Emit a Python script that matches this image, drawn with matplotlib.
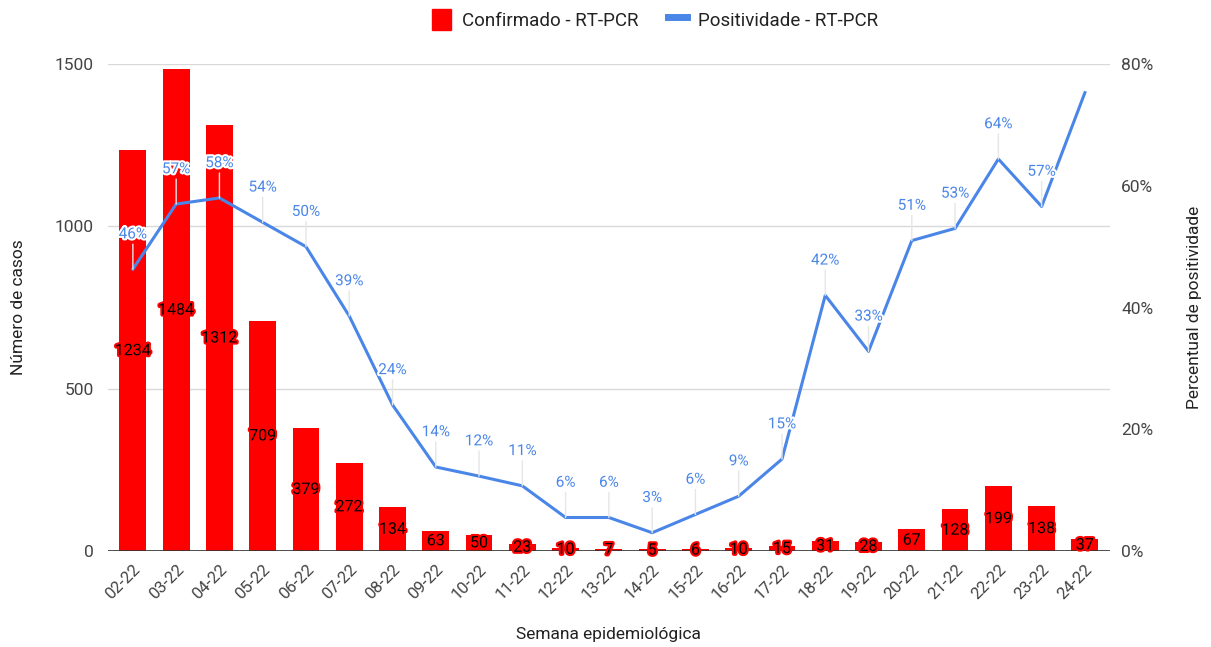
import numpy as np
import matplotlib.pyplot as plt
import matplotlib.patheffects as pe
from matplotlib.lines import Line2D
from matplotlib.patches import Patch

plt.rcParams['font.family'] = ['Roboto', 'DejaVu Sans']

# -------- DATA --------
semanas = ['02-22', '03-22', '04-22', '05-22', '06-22', '07-22', '08-22', '09-22',
           '10-22', '11-22', '12-22', '13-22', '14-22', '15-22', '16-22', '17-22',
           '18-22', '19-22', '20-22', '21-22', '22-22', '23-22', '24-22']
confirmados = [1234, 1484, 1312, 709, 379, 272, 134, 63, 50, 23, 10, 7, 5, 6, 10, 15,
               31, 28, 67, 128, 199, 138, 37]
positividade = [46.3, 57.0, 58.0, 54.0, 50.0, 38.6, 24.0, 13.8, 12.3, 10.7, 5.5, 5.5,
                3.0, 6.0, 9.0, 15.1, 42.0, 32.8, 51.0, 53.0, 64.4, 56.6, 75.3]
mostrar_pct = [True] * 22 + [False]

RED = '#ff0000'
BLUE = '#4a86e8'

# -------- PLOT --------
fig = plt.figure(figsize=(12.11, 6.47), dpi=100)
ax = fig.add_axes([0.089, 0.1484, 0.8276, 0.7526])
ax2 = ax.twinx()

x = np.arange(len(semanas))
ax.bar(x, confirmados, width=0.62, color=RED, zorder=2)
for xi, v in zip(x, confirmados):
    ax.text(xi, v / 2, str(v), ha='center', va='center', fontsize=11.5, color='black',
            zorder=5, path_effects=[pe.withStroke(linewidth=3, foreground=RED)])

ax.set_ylim(0, 1500)
ax.set_xlim(-0.58, len(semanas) - 0.42)
ax.set_yticks([0, 500, 1000, 1500])
ax.grid(axis='y', color='#d9d9d9', linewidth=1, zorder=0)
ax.set_axisbelow(True)
ax.set_xticks(x)
ax.set_xticklabels(semanas, rotation=45, ha='right', rotation_mode='anchor')
ax.set_ylabel('Número de casos', fontsize=12.5, color='#222222', labelpad=21)
ax.set_xlabel('Semana epidemiológica', fontsize=12.5, color='#222222', labelpad=18)

ax2.plot(x, positividade, color=BLUE, linewidth=2.2, zorder=3)
ax2.set_ylim(0, 80)
ax2.set_yticks([0, 20, 40, 60, 80])
ax2.set_yticklabels([f'{t}%' for t in [0, 20, 40, 60, 80]])
ax2.set_ylabel('Percentual de positividade', fontsize=12.5, color='#222222', labelpad=24)
for xi, p, show in zip(x, positividade, mostrar_pct):
    if not show:
        continue
    ax2.annotate(f'{p:.0f}%', xy=(xi, p), xytext=(0, 20), textcoords='offset points',
                 ha='center', va='bottom', fontsize=11, color=BLUE,
                 arrowprops=dict(arrowstyle='-', color='#e6e6e6', lw=1, shrinkA=0, shrinkB=0),
                 path_effects=[pe.withStroke(linewidth=3, foreground='white')])

for a in (ax, ax2):
    for s in a.spines.values():
        s.set_visible(False)
    a.tick_params(length=0, labelsize=12.5, colors='#444444')
ax.axhline(0, color='#333333', linewidth=1.2, zorder=4)
ax.tick_params(axis='x', labelsize=12, pad=8)
ax.tick_params(axis='y', pad=10)
ax2.tick_params(axis='y', pad=8)

handles = [Patch(color=RED, label='Confirmado - RT-PCR'),
           Line2D([0], [0], color=BLUE, linewidth=5, label='Positividade - RT-PCR')]
fig.legend(handles=handles, loc='upper center', bbox_to_anchor=(0.541, 1.012), ncol=2,
           frameon=False, fontsize=13.5, handlelength=1.0, handleheight=1.3,
           columnspacing=1.6, handletextpad=0.6, labelcolor='#222222')

fig.savefig('out.png', dpi=100)
